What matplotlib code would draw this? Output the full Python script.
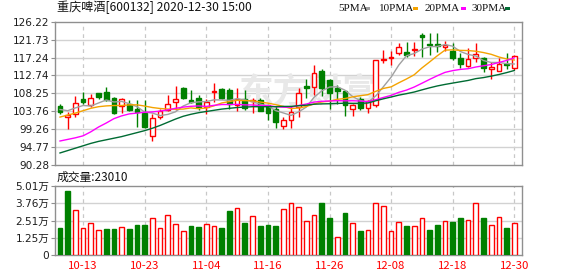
import numpy as np
import matplotlib
matplotlib.use("Agg")
import matplotlib.pyplot as plt

# ---------------- data ----------------
opens = [105.16, 102.24, 103.07, 106.83, 105.41, 108.25, 108.67, 107.17, 104.99, 105.50,
         104.24, 103.32, 97.47, 102.24, 104.16, 105.96, 109.59, 106.58, 107.08, 104.91,
         108.51, 109.34, 109.17, 105.24, 106.92, 106.25, 106.67, 105.41, 104.41, 99.98,
         101.48, 104.83, 110.18, 109.76, 113.77, 111.68, 109.51, 108.76, 104.33, 106.83,
         104.58, 105.24, 116.70, 117.12, 118.37, 118.62, 119.12, 122.97, 120.63, 120.71,
         119.79, 118.96, 117.20, 115.19, 117.20, 117.20, 114.27, 113.94, 115.61, 114.69]
highs = [105.58, 103.57, 107.50, 108.51, 108.09, 108.42, 109.84, 107.33, 107.08, 106.58,
         106.67, 106.50, 103.07, 104.33, 107.92, 110.01, 109.84, 109.01, 107.92, 106.75,
         110.76, 109.68, 109.59, 109.59, 109.17, 107.08, 107.08, 105.41, 104.99, 102.24,
         104.99, 109.59, 111.85, 115.28, 114.44, 111.85, 110.26, 109.17, 105.66, 107.33,
         106.67, 116.53, 119.21, 118.79, 120.88, 121.13, 121.21, 123.30, 123.47, 123.47,
         121.30, 120.96, 118.29, 119.54, 120.96, 117.45, 116.03, 117.12, 118.45, 117.78]
lows = [103.07, 99.39, 102.24, 105.58, 104.91, 106.75, 106.42, 103.07, 103.40, 103.91,
        99.81, 99.56, 96.30, 101.90, 103.74, 103.99, 106.92, 105.75, 104.16, 103.15,
        105.96, 106.83, 104.33, 103.74, 104.16, 103.32, 103.74, 101.65, 99.56, 99.31,
        99.56, 102.24, 107.08, 107.92, 107.50, 104.41, 105.58, 102.49, 102.49, 104.16,
        103.32, 104.83, 115.86, 115.28, 117.95, 117.28, 117.62, 117.45, 117.87, 118.54,
        118.79, 116.61, 114.69, 114.94, 116.11, 113.60, 111.93, 113.77, 114.36, 114.11]
closes = [103.49, 102.90, 105.75, 106.16, 107.08, 107.25, 106.67, 103.24, 106.92, 104.16,
          103.57, 99.81, 102.07, 103.74, 105.66, 106.83, 107.08, 106.16, 104.83, 106.08,
          108.92, 107.00, 105.66, 106.92, 104.58, 106.67, 103.91, 103.40, 101.07, 101.65,
          103.57, 108.34, 109.51, 113.35, 109.59, 108.34, 108.76, 105.24, 105.33, 104.58,
          106.25, 116.53, 116.87, 117.28, 119.79, 117.95, 119.29, 122.30, 120.38, 120.13,
          120.38, 117.20, 115.61, 116.78, 118.12, 114.61, 114.86, 115.61, 115.36, 117.62]
volumes = [19600, 46500, 32400, 19400, 23000, 17900, 18900, 18900, 20100, 18900,
           21800, 21800, 26600, 19400, 28800, 22300, 17200, 21100, 20300, 22300,
           20800, 19600, 31900, 33900, 23200, 28100, 21100, 21800, 21100, 33200,
           37500, 34600, 24700, 29000, 37800, 26900, 12800, 30500, 23200, 17400,
           17900, 37500, 35600, 17200, 23700, 21100, 20800, 26600, 18200, 21800,
           24400, 24000, 26900, 25200, 37500, 26900, 21500, 27300, 19600, 23010]
first_vol_up = False

# moving-average values before enough in-window history exists
ma5_head = [104.2, 103.9, 104.6, 105.2]
ma10_head = [102.3, 102.8, 103.3, 103.9, 104.5, 104.9, 105.1, 105.2, 105.2]
ma20_head = [96.3, 96.7, 97.1, 97.6, 98.6, 99.8, 100.8, 101.9, 102.6, 103.1,
             103.3, 103.5, 103.6, 103.8, 104.1, 104.5, 104.8, 105.0, 105.1]
ma30_head = [93.3, 93.9, 94.5, 95.1, 95.7, 96.2, 96.6, 97.0, 97.4, 97.9,
             98.4, 98.9, 99.5, 100.2, 101.0, 101.8, 102.5, 103.0, 103.4, 103.7,
             104.0, 104.3, 104.5, 104.7, 104.8, 104.9, 104.9, 104.9, 104.9]

date_ticks = ['10-13', '10-23', '11-04', '11-16', '11-26', '12-08', '12-18', '12-30']
price_ticks = ['90.28', '94.77', '99.26', '103.76', '108.25', '112.74', '117.24', '121.73', '126.22']
vol_ticks = ['0', '1.25万', '2.51万', '3.76万', '5.01万']
ma_names = ['5PMA', '10PMA', '20PMA', '30PMA']
title = '重庆啤酒[600132] 2020-12-30 15:00'
vol_title = '成交量:23010'
watermark = '东方财富'

# ---------------- styling ----------------
RED = '#ff0000'
GREEN = '#008000'
MA_COLORS = ['#a0a0a0', '#f4a300', '#ff00ff', '#006b33']
GRID = '#d2d2d2'
SPINE = '#8f8f8f'
CJK = ['Noto Sans CJK SC', 'DejaVu Sans']
NUM = ['DejaVu Sans', 'Noto Sans CJK SC']

W, H = 578, 276
fig = plt.figure(figsize=(W / 100, H / 100), dpi=100)
fig.patch.set_facecolor('white')

def fx(px):
    return px / W

def fy(py):
    return 1 - py / H

L, R = 55, 522
ax = fig.add_axes([fx(L), fy(165), fx(R - L), (165 - 21.7) / H])
axv = fig.add_axes([fx(L), fy(255), fx(R - L), (255 - 186) / H])

o = np.array(opens); h = np.array(highs); l = np.array(lows); c = np.array(closes)
v = np.array(volumes)
n = len(c)
x = np.arange(n)
up = c >= o

def ma(win, head):
    s = np.convolve(c, np.ones(win) / win, mode='valid')
    return np.r_[head, s]

mas = [ma(5, ma5_head), ma(10, ma10_head), ma(20, ma20_head), ma(30, ma30_head)]

ymin, ymax = 90.28, 126.22
xlim = (-0.65, 60.0)
tick_pos = list(range(3, n, 8))

for a in (ax, axv):
    a.set_xlim(*xlim)
    for s in a.spines.values():
        s.set_color(SPINE)
        s.set_linewidth(1.0)
    a.set_xticks(tick_pos)
    a.tick_params(axis='x', length=0)
    a.tick_params(axis='y', length=3, color=SPINE, pad=1, labelsize=7.6,
                  labelcolor='#1e1e1e')
    for t in tick_pos:
        a.axvline(t, color='#c8c8c8', lw=0.9, ls=(0, (3, 3)), zorder=0.5)

ax.set_xticklabels([])
ax.set_ylim(ymin, ymax)
ax.set_yticks(np.linspace(ymin, ymax, len(price_ticks)))
ax.set_yticklabels(price_ticks, fontfamily=NUM)
for yv in np.linspace(ymin, ymax, len(price_ticks))[1:-1]:
    ax.axhline(yv, color=GRID, lw=1.0, zorder=0.5)

# faint watermark behind the candles
ax.text(fx(308), fy(92), watermark, transform=fig.transFigure, fontsize=25,
        color='#e8e8e8', ha='center', va='center', fontfamily=CJK,
        fontweight='bold', zorder=1)

# candles
bw = 0.62
for i in range(n):
    col = RED if up[i] else GREEN
    top = max(o[i], c[i]); bot = min(o[i], c[i])
    ax.plot([x[i], x[i]], [top, h[i]], color=col, lw=1.0, zorder=2, solid_capstyle='butt')
    ax.plot([x[i], x[i]], [l[i], bot], color=col, lw=1.0, zorder=2, solid_capstyle='butt')
    hgt = max(top - bot, 0.12)
    ax.bar(x[i], hgt, bottom=bot, width=bw, facecolor='white' if up[i] else GREEN,
           edgecolor=col, linewidth=1.0, zorder=3)

for m, col in zip(mas, MA_COLORS):
    ax.plot(x, m, color=col, lw=1.0, zorder=4)

# volume
vol_up = np.r_[first_vol_up, np.diff(c) >= 0]
vmax = 50100
axv.set_ylim(0, vmax)
axv.set_yticks(np.linspace(0, vmax, len(vol_ticks)))
axv.set_yticklabels(vol_ticks, fontfamily=NUM)
for yv in np.linspace(0, vmax, len(vol_ticks))[1:-1]:
    axv.axhline(yv, color=GRID, lw=1.0, zorder=0.5)
for i in range(n):
    if vol_up[i]:
        axv.bar(x[i], v[i], width=0.6, facecolor='white', edgecolor=RED, linewidth=1.0, zorder=3)
    else:
        axv.bar(x[i], v[i], width=0.6, facecolor=GREEN, edgecolor=GREEN, linewidth=1.0, zorder=3)
axv.set_xticklabels(date_ticks, color=RED, fontsize=8.2, fontfamily=CJK)
axv.tick_params(axis='x', pad=4)

# texts
fig.text(fx(57), fy(7.5), title, fontsize=8.7, fontfamily=CJK, va='center', ha='left', color='#111111')
fig.text(fx(57), fy(177.5), vol_title, fontsize=8.5, fontfamily=CJK, va='center', ha='left', color='#111111')

leg_x = [338, 379, 425, 472]
sq_x = [365, 413, 461, 505]
for name, lx, sx, col in zip(ma_names, leg_x, sq_x, MA_COLORS):
    fig.text(fx(lx), fy(8.7), name, fontsize=8.0, fontfamily=['Liberation Serif'],
             va='center', ha='left', color='#111111')
    fig.patches.append(matplotlib.patches.Rectangle((fx(sx), fy(10)), fx(5), 3 / H,
                       transform=fig.transFigure, facecolor=col, edgecolor='none'))

fig.savefig('out.png', dpi=100, facecolor='white')
